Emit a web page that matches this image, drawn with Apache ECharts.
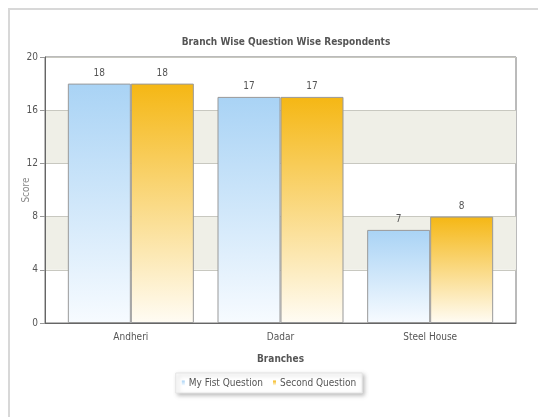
<!DOCTYPE html>
<html><head><meta charset="utf-8">
<script src="https://cdn.jsdelivr.net/npm/echarts@6/dist/echarts.min.js"></script>
<style>html,body{margin:0;padding:0;background:#fff}#c{width:538px;height:417px}</style>
</head><body><div id="c"></div>
<script>
const categories = ['Andheri', 'Dadar', 'Steel House'];
const q1Name = 'My Fist Question';
const q2Name = 'Second Question';
const q1Values = [18, 17, 7];
const q2Values = [18, 17, 8];
const yMin = 0, yMax = 20, yStep = 4;

const FONT = "'Liberation Sans Narrow', 'DejaVu Sans Condensed', sans-serif";
const chart = echarts.init(document.getElementById('c'), null, {renderer: 'canvas'});
const grad = (top, bottom) => new echarts.graphic.LinearGradient(0, 0, 0, 1, [
  {offset: 0, color: top}, {offset: 1, color: bottom}]);

chart.setOption({
  animation: false,
  backgroundColor: '#fff',
  graphic: [{
    type: 'rect', shape: {x: 9, y: 9, width: 540, height: 420},
    style: {fill: 'none', stroke: '#d8d8d8', lineWidth: 2}, z: -10
  }],
  title: {
    text: 'Branch Wise Question Wise Respondents', left: 281, top: 32, textAlign: 'center',
    textStyle: {fontFamily: FONT, fontSize: 10, fontWeight: 'bold', color: '#555'}
  },
  legend: {
    data: [q1Name, q2Name], left: 'center', top: 373,
    itemWidth: 3, itemHeight: 5, itemGap: 10, icon: 'rect',
    padding: [5, 6, 5, 6],
    itemStyle: {borderWidth: 0},
    backgroundColor: '#fff', borderColor: '#e4e4e4', borderWidth: 1,
    shadowColor: 'rgba(0,0,0,0.25)', shadowBlur: 4, shadowOffsetX: 2, shadowOffsetY: 2,
    textStyle: {fontFamily: FONT, fontSize: 10, color: '#555', padding: [0, 0, 0, -1]}
  },
  grid: [
    {left: 45, right: 22, top: 57, bottom: 94, show: true, borderColor: '#777', borderWidth: 1},
    {left: 56, right: 33, top: 57, bottom: 94}
  ],
  xAxis: [
    {type: 'category', gridIndex: 0, data: categories, axisLabel: {show: false}, axisTick: {show: false},
     axisLine: {lineStyle: {color: '#666'}},
     name: 'Branches', nameLocation: 'middle', nameGap: 31, nameMoveOverlap: false,
     nameTextStyle: {fontFamily: FONT, fontSize: 10, fontWeight: 'bold', color: '#555'}},
    {type: 'category', gridIndex: 1, data: categories, axisLine: {show: false}, axisTick: {show: false},
     axisLabel: {fontFamily: FONT, fontSize: 10, color: '#555', margin: 9}}
  ],
  yAxis: [
    {type: 'value', gridIndex: 0, min: yMin, max: yMax, interval: yStep,
     axisLine: {show: true, lineStyle: {color: '#666'}},
     axisTick: {show: true, length: 5, lineStyle: {color: '#999'}},
     axisLabel: {fontFamily: FONT, fontSize: 10, color: '#555', margin: 7},
     splitLine: {show: true, lineStyle: {color: '#c8c8c0'}},
     splitArea: {show: true, areaStyle: {color: ['rgba(255,255,255,0)', '#efefe7']}},
     name: 'Score', nameLocation: 'middle', nameGap: 14, nameMoveOverlap: false,
     nameTextStyle: {fontFamily: FONT, fontSize: 10, color: '#888'}},
    {type: 'value', gridIndex: 1, min: yMin, max: yMax, interval: yStep, show: false}
  ],
  series: [
    {name: q1Name, type: 'bar', xAxisIndex: 1, yAxisIndex: 1, data: q1Values,
     barWidth: 63, barGap: '0%',
     itemStyle: {color: grad('#a9d3f5', '#f7fbff'), borderColor: '#999', borderWidth: 1},
     label: {show: true, position: 'top', distance: 5, fontFamily: FONT, fontSize: 10, color: '#555'}},
    {name: q2Name, type: 'bar', xAxisIndex: 1, yAxisIndex: 1, data: q2Values,
     barWidth: 63, barGap: '0%',
     itemStyle: {color: grad('#f5b714', '#fffcf4'), borderColor: '#999', borderWidth: 1},
     label: {show: true, position: 'top', distance: 5, fontFamily: FONT, fontSize: 10, color: '#555'}}
  ]
});
</script></body></html>
